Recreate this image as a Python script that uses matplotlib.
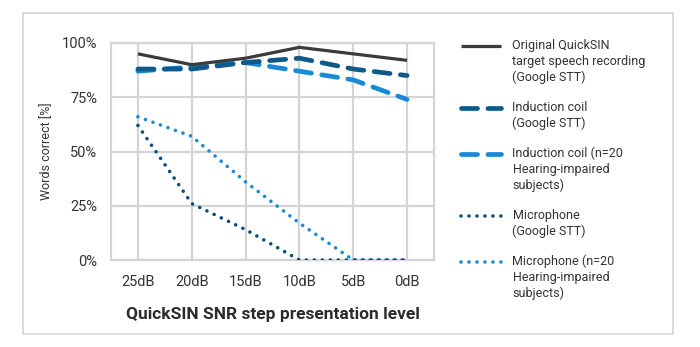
import matplotlib.pyplot as plt
from matplotlib.patches import Rectangle
from matplotlib.legend_handler import HandlerLine2D

plt.rcParams['font.family'] = ['Roboto', 'DejaVu Sans']

levels = ['25dB', '20dB', '15dB', '10dB', '5dB', '0dB']

original_google = [95, 90, 93, 98, 95, 92]
coil_google = [88, 88, 91, 93, 88, 85]
coil_hearing = [87, 89, 91, 87, 83, 74]
mic_google = [62, 26, 14, 0, 0, 0]
mic_hearing = [66, 57, 36, 17, 0, 0]

labels = [
    'Original QuickSIN\ntarget speech recording\n(Google STT)',
    'Induction coil\n(Google STT)',
    'Induction coil (n=20\nHearing-impaired\nsubjects)',
    'Microphone\n(Google STT)',
    'Microphone (n=20\nHearing-impaired\nsubjects)',
]

LINESP = 1.28


class TopLineHandler(HandlerLine2D):
    # put the legend line next to the first text line instead of the middle
    def __init__(self, nlines, step, **kw):
        super().__init__(**kw)
        self.dy = (nlines - 1) * step / 2

    def create_artists(self, legend, orig_handle, xdescent, ydescent, width, height, fontsize, trans):
        arts = super().create_artists(legend, orig_handle, xdescent, ydescent, width, height, fontsize, trans)
        for a in arts:
            a.set_ydata([y + self.dy for y in a.get_ydata()])
        return arts


fig = plt.figure(figsize=(7, 3.47), dpi=100)
W, H = 700, 347

# outer frame
fig.patches.append(Rectangle((23 / W, 1 - 334 / H), (673 - 23) / W, (334 - 13) / H,
                             transform=fig.transFigure, fill=False,
                             edgecolor='#d6d6d6', linewidth=1.2))

ax = fig.add_axes([111 / W, 1 - 260 / H, (434 - 111) / W, (260 - 43) / H])

x = range(len(levels))
lines = []
lines += ax.plot(x, original_google, color='#3b3b3b', lw=2.3, solid_capstyle='butt', zorder=5)
lines += ax.plot(x, coil_google, color='#0e5a8a', lw=3.4, dashes=(3.4, 2.2), dash_capstyle='round', zorder=4)
lines += ax.plot(x, coil_hearing, color='#1b8ad6', lw=3.4, dashes=(3.4, 2.2), dash_capstyle='round', zorder=3)
lines += ax.plot(x, mic_google, color='#0d4e78', lw=2.6, dashes=(0.01, 2.2), dash_capstyle='round', zorder=4)
lines += ax.plot(x, mic_hearing, color='#1b8ad6', lw=2.6, dashes=(0.01, 2.2), dash_capstyle='round', zorder=3)

ax.set_xlim(-0.5, 5.5)
ax.set_ylim(0, 100)
ax.set_yticks([0, 25, 50, 75, 100])
ax.set_yticklabels(['0%', '25%', '50%', '75%', '100%'])
ax.set_xticks(list(x))
ax.set_xticklabels(levels)
ax.grid(True, color='#d4d4d4', lw=1.6)
ax.set_axisbelow(True)
for s in ax.spines.values():
    s.set_color('#d4d4d4')
    s.set_linewidth(1.6)
ax.tick_params(length=0, labelsize=10.5, colors='#333333')
ax.tick_params(axis='x', pad=11)
ax.tick_params(axis='y', pad=10)
ax.set_ylabel('Words correct [%]', fontsize=9, color='#333333', labelpad=6)
ax.set_xlabel('QuickSIN SNR step presentation level', fontsize=12.5, fontweight='bold',
              color='#2b2b2b', labelpad=13)

step = 9 * LINESP
handlers = {ln: TopLineHandler(lb.count('\n') + 1, step) for ln, lb in zip(lines, labels)}
leg = ax.legend(lines, labels, loc='upper left', bbox_to_anchor=(450 / W, 1 - 28 / H),
                bbox_transform=fig.transFigure, frameon=False, fontsize=9,
                handlelength=3.2, handletextpad=0.9, labelspacing=1.32,
                handler_map=handlers)
for t in leg.get_texts():
    t.set_color('#333333')
    t.set_linespacing(LINESP)

fig.savefig('out.png', dpi=100)
